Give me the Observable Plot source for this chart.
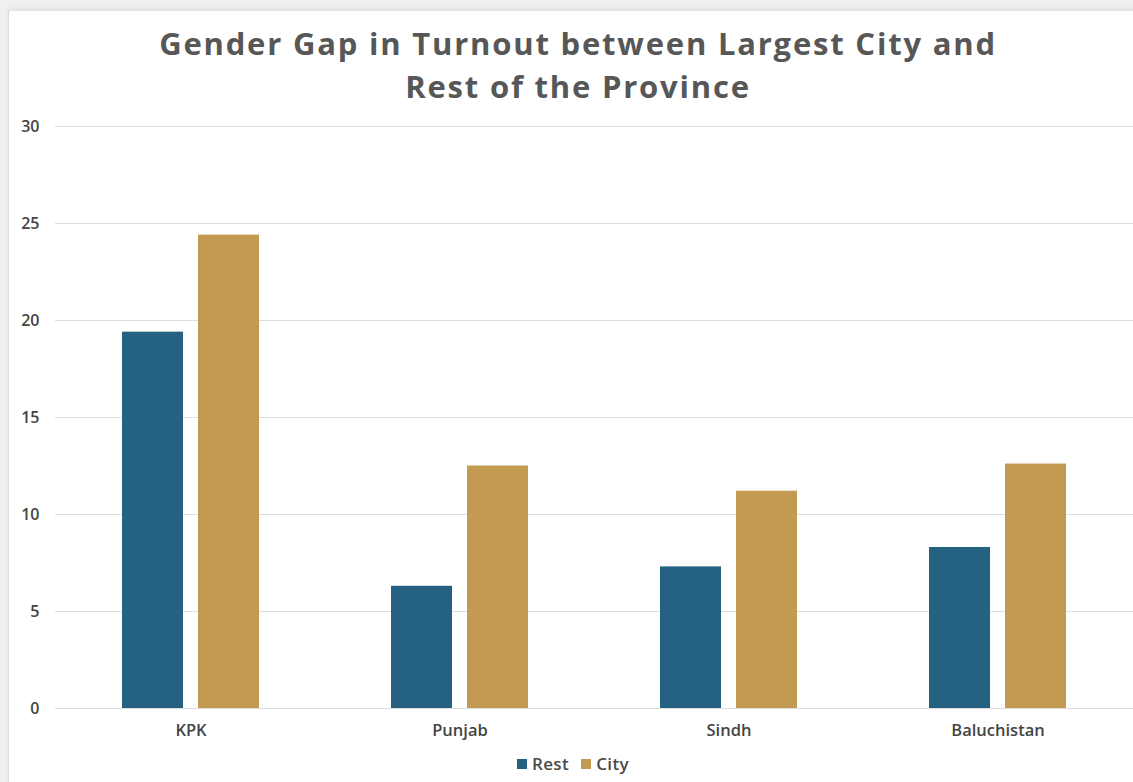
<!DOCTYPE html>
<html>
<head>
<meta charset="utf-8">
<script src="https://cdn.jsdelivr.net/npm/d3@7"></script>
<script src="https://cdn.jsdelivr.net/npm/@observablehq/plot@0.6"></script>
<style>
  html, body { margin: 0; padding: 0; background: #f1f1f1; width: 1133px; height: 782px; overflow: hidden; font-family: "Open Sans", Lato, sans-serif; }
  #card { position: absolute; left: 8px; top: 10px; width: 1140px; height: 790px; background: #fff; border-left: 1px solid #dcdcdc; border-top: 1px solid #e4e4e4; box-shadow: 0 -2px 6px rgba(0,0,0,0.06); }
  #title { position: absolute; left: 0; top: 22px; width: 1156px; text-align: center; font-weight: 700; font-size: 31px; line-height: 43px; color: #575757; letter-spacing: 1.8px; }
  #chart { position: absolute; left: 0; top: 110px; }
  #legend { position: absolute; left: 0; top: 752px; width: 1146px; text-align: center; font-size: 17px; font-weight: 600; color: #4a4a4a; letter-spacing: 0.4px; }
  #legend span.sw { display: inline-block; width: 10px; height: 10px; margin-right: 5px; vertical-align: 1px; }
  #legend span.item { margin: 0 6px; }
</style>
</head>
<body>
<div id="card"></div>
<div id="title">Gender Gap in Turnout between Largest City and<br>Rest of the Province</div>
<div id="chart"></div>
<div id="legend"></div>
<script>
const provinces = ["KPK", "Punjab", "Sindh", "Baluchistan"];
const series = ["Rest", "City"];
const restValues = [19.4, 6.3, 7.3, 8.3];
const cityValues = [24.4, 12.5, 11.2, 12.6];
const yTicks = [0, 5, 10, 15, 20, 25, 30];
const colors = ["#256281", "#C29A52"];

const rows = [];
provinces.forEach((p, i) => {
  rows.push({province: p, series: "Rest", value: restValues[i]});
  rows.push({province: p, series: "City", value: cityValues[i]});
});

const chart = Plot.plot({
  width: 1133,
  height: 638,
  marginLeft: 55,
  marginRight: 0,
  marginTop: 16,
  marginBottom: 40,
  style: {fontFamily: "'Open Sans', Lato, sans-serif", background: "transparent", overflow: "visible"},
  x: {domain: provinces, paddingInner: 0.49, paddingOuter: 0.245, axis: null, label: null},
  y: {domain: [0, 30], axis: null, label: null},
  color: {domain: series, range: colors},
  marks: [
    Plot.ruleY(yTicks, {stroke: "#dedede", strokeWidth: 1.2}),
    Plot.axisY({ticks: yTicks, tickSize: 0, tickPadding: 16, fontSize: 16, color: "#444", fontWeight: 600, label: null}),
    Plot.barY(rows.filter(d => d.series === "Rest"), {x: "province", y: "value", fill: "series", insetRight: 76}),
    Plot.barY(rows.filter(d => d.series === "City"), {x: "province", y: "value", fill: "series", insetLeft: 76}),
    Plot.axisX({anchor: "bottom", tickSize: 0, tickPadding: 16, fontSize: 16.5, color: "#444", fontWeight: 600, label: null, style: {letterSpacing: "0.6px"}})
  ]
});
document.getElementById("chart").appendChild(chart);

const legend = document.getElementById("legend");
legend.innerHTML = series.map((s, i) =>
  `<span class="item"><span class="sw" style="background:${colors[i]}"></span>${s}</span>`).join("");
</script>
</body>
</html>
